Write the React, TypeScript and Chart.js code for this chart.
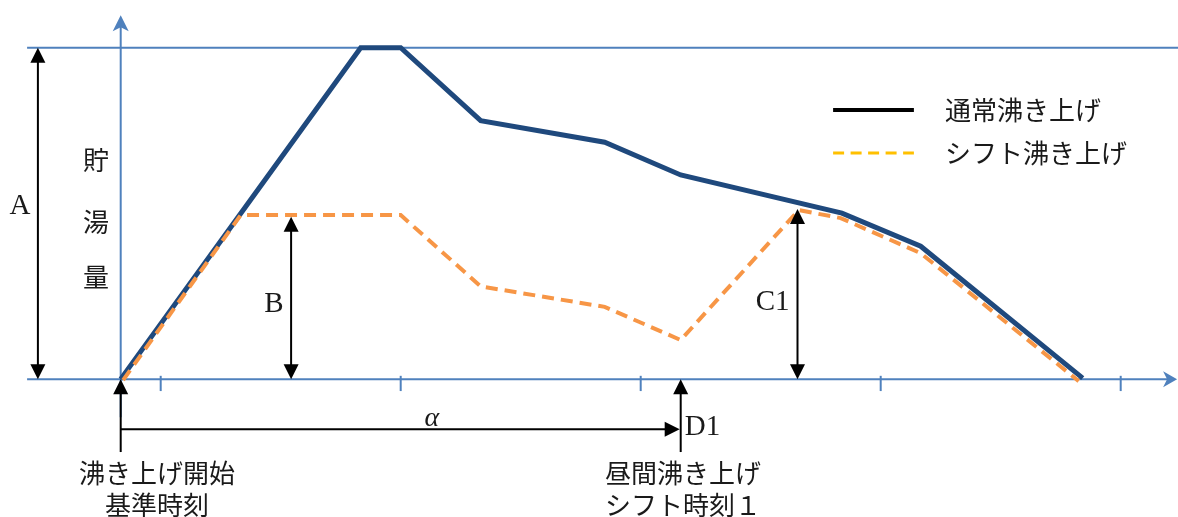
import { useEffect, useRef } from 'react';
import { Chart, registerables } from 'chart.js';

Chart.register(...registerables);

// ---- data (x: time units, y: stored hot water, 100 = full) ----
const normalX = [0, 3, 6, 7, 9, 12.1, 14, 18.03, 20, 24.05];
const normalY = [0, 50, 100, 100, 78, 71.5, 61.6, 50.1, 40.1, 0.3];
const shiftX = [0.06, 3, 7, 9, 12.1, 14, 16.95, 18, 20, 23.95];
const shiftY = [-0.3, 49.5, 49.5, 28, 21.8, 11.8, 51, 48.6, 38, -0.6];
const tickValues = [1, 7, 13, 19, 25];

const seriesNames = ['通常沸き上げ', 'シフト沸き上げ'];
const startLabel = ['沸き上げ開始', '基準時刻'];
const shiftLabel = ['昼間沸き上げ', 'シフト時刻１'];
const yLabelChars = ['貯', '湯', '量'];

// annotation anchors in data units
const ANN = {
  aX: -2.07, bX: 4.26, bTop: 49, c1X: 16.92, c1Top: 51.3,
  d1X: 14, alphaY: -15.1, lowY: -22,
  aLabel: { x: -2.52, y: 52.2 }, bLabel: { x: 3.83, y: 22.6 }, c1Label: { x: 16.3, y: 23.2 },
  alphaLabel: { x: 7.78, y: -12.0 }, d1Label: { x: 14.1, y: -14.6 },
  botLine1: -28.4, botLine2: -38, startCx: 0.91, shiftCx: 14.06,
  yLabX: -0.62, yLabY: [66.1, 47.4, 30.8],
  legX1: 17.81, legX2: 19.83, legTextX: 20.61, legY: [81.2, 68.2],
  axisLeft: -2.34, axisRight: 26.36, yAxisBottom: -11.5, yAxisTop: 109.5,
  tickTop: 1, tickBottom: -3.6,
};

const AXIS = '#4F81BD';
const NAVY = '#1F497D';
const ORANGE = '#F79646';
const GOLD = '#FFC000';
const TXT = '#1a1a1a';
const CJK = '26px "Noto Sans CJK JP"';
const SERIF = '29px "Liberation Serif", "DejaVu Serif", serif';

function head(ctx: CanvasRenderingContext2D, x: number, y: number, dir: string) {
  const L = 15, W = 7.5;
  ctx.beginPath();
  ctx.moveTo(x, y);
  if (dir === 'up') { ctx.lineTo(x - W, y + L); ctx.lineTo(x + W, y + L); }
  else if (dir === 'down') { ctx.lineTo(x - W, y - L); ctx.lineTo(x + W, y - L); }
  else { ctx.lineTo(x - L, y - W); ctx.lineTo(x - L, y + W); }
  ctx.closePath();
  ctx.fill();
}

const annotPlugin = {
  id: 'annot',
  beforeDatasetsDraw(chart: any) {
    const ctx: CanvasRenderingContext2D = chart.ctx;
    const xs = chart.scales.x, ys = chart.scales.y;
    const px = (v: number) => xs.getPixelForValue(v);
    const py = (v: number) => ys.getPixelForValue(v);
    ctx.save();
    ctx.strokeStyle = AXIS;
    ctx.fillStyle = AXIS;
    ctx.lineWidth = 2;
    // top full line
    ctx.beginPath();
    ctx.moveTo(px(ANN.axisLeft), py(100));
    ctx.lineTo(chart.width, py(100));
    ctx.stroke();
    // x axis
    const x0 = py(0);
    const xr = px(ANN.axisRight);
    ctx.beginPath();
    ctx.moveTo(px(ANN.axisLeft), x0);
    ctx.lineTo(xr - 4, x0);
    ctx.stroke();
    ctx.beginPath();
    ctx.moveTo(xr + 2, x0);
    ctx.lineTo(xr - 12, x0 - 8);
    ctx.lineTo(xr - 8, x0);
    ctx.lineTo(xr - 12, x0 + 8);
    ctx.closePath();
    ctx.fill();
    // ticks
    tickValues.forEach((t) => {
      ctx.beginPath();
      ctx.moveTo(px(t), py(ANN.tickTop));
      ctx.lineTo(px(t), py(ANN.tickBottom));
      ctx.stroke();
    });
    // y axis
    const yx = px(0);
    const yt = py(ANN.yAxisTop);
    ctx.beginPath();
    ctx.moveTo(yx, py(ANN.yAxisBottom));
    ctx.lineTo(yx, yt + 4);
    ctx.stroke();
    ctx.beginPath();
    ctx.moveTo(yx, yt - 1);
    ctx.lineTo(yx - 8, yt + 15);
    ctx.lineTo(yx, yt + 11);
    ctx.lineTo(yx + 8, yt + 15);
    ctx.closePath();
    ctx.fill();
    ctx.restore();
  },
  afterDatasetsDraw(chart: any) {
    const ctx: CanvasRenderingContext2D = chart.ctx;
    const xs = chart.scales.x, ys = chart.scales.y;
    const px = (v: number) => xs.getPixelForValue(v);
    const py = (v: number) => ys.getPixelForValue(v);
    ctx.save();
    ctx.strokeStyle = '#000';
    ctx.fillStyle = '#000';
    ctx.lineWidth = 2;
    const vDouble = (x: number, y1: number, y2: number) => {
      const X = px(x), T = py(y1), B = py(y2);
      ctx.beginPath();
      ctx.moveTo(X, T + 10);
      ctx.lineTo(X, B - 10);
      ctx.stroke();
      head(ctx, X, T, 'up');
      head(ctx, X, B, 'down');
    };
    vDouble(ANN.aX, 100, 0);
    vDouble(ANN.bX, ANN.bTop, 0);
    vDouble(ANN.c1X, ANN.c1Top, 0);
    // start & D1 upward arrows
    [0, ANN.d1X].forEach((x) => {
      const X = px(x);
      ctx.beginPath();
      ctx.moveTo(X, py(ANN.lowY));
      ctx.lineTo(X, py(0) + 10);
      ctx.stroke();
      head(ctx, X, py(0), 'up');
    });
    // alpha horizontal arrow
    ctx.beginPath();
    ctx.moveTo(px(0), py(ANN.alphaY));
    ctx.lineTo(px(ANN.d1X) - 10, py(ANN.alphaY));
    ctx.stroke();
    head(ctx, px(ANN.d1X) - 1, py(ANN.alphaY), 'right');

    // labels
    ctx.fillStyle = TXT;
    ctx.textBaseline = 'middle';
    ctx.textAlign = 'center';
    ctx.font = SERIF;
    ctx.fillText('A', px(ANN.aLabel.x), py(ANN.aLabel.y));
    ctx.fillText('B', px(ANN.bLabel.x), py(ANN.bLabel.y));
    ctx.fillText('C1', px(ANN.c1Label.x), py(ANN.c1Label.y));
    ctx.font = 'italic 28px "Liberation Serif", "DejaVu Serif", serif';
    ctx.fillText('α', px(ANN.alphaLabel.x), py(ANN.alphaLabel.y));
    ctx.font = SERIF;
    ctx.textAlign = 'left';
    ctx.fillText('D1', px(ANN.d1Label.x), py(ANN.d1Label.y));

    ctx.font = CJK;
    ctx.textAlign = 'center';
    yLabelChars.forEach((c, i) => ctx.fillText(c, px(ANN.yLabX), py(ANN.yLabY[i])));
    ctx.fillText(startLabel[0], px(ANN.startCx), py(ANN.botLine1));
    ctx.fillText(startLabel[1], px(ANN.startCx), py(ANN.botLine2));
    ctx.fillText(shiftLabel[0], px(ANN.shiftCx), py(ANN.botLine1));
    ctx.fillText(shiftLabel[1], px(ANN.shiftCx), py(ANN.botLine2));

    // legend
    ctx.lineWidth = 4;
    ctx.strokeStyle = '#000';
    ctx.beginPath();
    ctx.moveTo(px(ANN.legX1), py(ANN.legY[0]));
    ctx.lineTo(px(ANN.legX2), py(ANN.legY[0]));
    ctx.stroke();
    ctx.lineWidth = 3;
    ctx.strokeStyle = GOLD;
    ctx.setLineDash([11, 6.5]);
    ctx.beginPath();
    ctx.moveTo(px(ANN.legX1), py(ANN.legY[1]));
    ctx.lineTo(px(ANN.legX2), py(ANN.legY[1]));
    ctx.stroke();
    ctx.setLineDash([]);
    ctx.textAlign = 'left';
    ctx.fillStyle = TXT;
    ctx.fillText(seriesNames[0], px(ANN.legTextX), py(ANN.legY[0]));
    ctx.fillText(seriesNames[1], px(ANN.legTextX), py(ANN.legY[1]));
    ctx.restore();
  },
};

export default function App() {
  const ref = useRef<HTMLCanvasElement | null>(null);
  useEffect(() => {
    if (!ref.current) return;
    const chart = new Chart(ref.current, {
      type: 'line',
      data: {
        datasets: [
          {
            label: seriesNames[1],
            data: shiftX.map((x, i) => ({ x, y: shiftY[i] })),
            borderColor: ORANGE,
            borderWidth: 4,
            borderDash: [12, 7],
            pointRadius: 0,
            tension: 0,
            fill: false,
            borderJoinStyle: 'miter',
            clip: false as any,
          },
          {
            label: seriesNames[0],
            data: normalX.map((x, i) => ({ x, y: normalY[i] })),
            borderColor: NAVY,
            borderWidth: 5,
            pointRadius: 0,
            tension: 0,
            fill: false,
            borderJoinStyle: 'miter',
            clip: false as any,
          },
        ],
      },
      options: {
        animation: false,
        responsive: false,
        devicePixelRatio: 1,
        layout: { padding: { left: 28.7, right: 1.3, top: 0, bottom: 0 } },
        scales: {
          x: { type: 'linear', min: -2.3, max: 26.4, display: false },
          y: { type: 'linear', min: -41.6, max: 114.4, display: false },
        },
        plugins: { legend: { display: false }, tooltip: { enabled: false } },
        events: [],
      },
      plugins: [annotPlugin],
    });
    return () => chart.destroy();
  }, []);
  return (
    <div style={{ position: 'absolute', left: 0, top: 0, width: 1178, height: 517, background: '#fff' }}>
      <canvas ref={ref} width={1178} height={517} />
    </div>
  );
}
